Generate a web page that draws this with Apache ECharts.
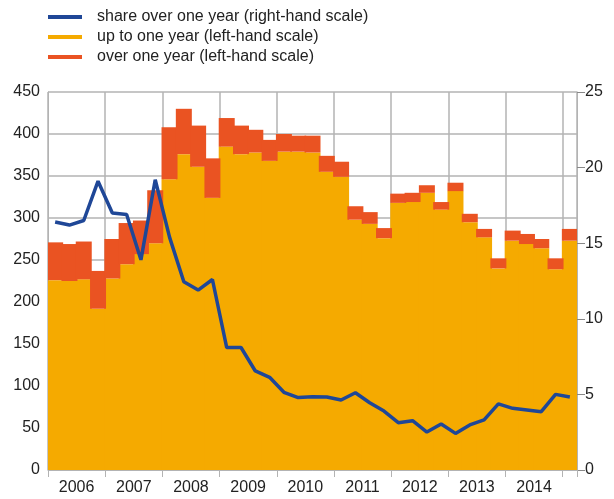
<!DOCTYPE html>
<html>
<head>
<meta charset="utf-8">
<script src="https://cdn.jsdelivr.net/npm/echarts@6/dist/echarts.min.js"></script>
<style>
html,body{margin:0;padding:0;background:#fff;}
#chart{width:614px;height:499px;}
</style>
</head>
<body>
<div id="chart"></div>
<script>
var quarters = ['2006Q1','2006Q2','2006Q3','2006Q4','2007Q1','2007Q2','2007Q3','2007Q4',
  '2008Q1','2008Q2','2008Q3','2008Q4','2009Q1','2009Q2','2009Q3','2009Q4',
  '2010Q1','2010Q2','2010Q3','2010Q4','2011Q1','2011Q2','2011Q3','2011Q4',
  '2012Q1','2012Q2','2012Q3','2012Q4','2013Q1','2013Q2','2013Q3','2013Q4',
  '2014Q1','2014Q2','2014Q3','2014Q4','2015Q1'];
var yearLabels = ['2006','2007','2008','2009','2010','2011','2012','2013','2014'];
// up to one year (left-hand scale)
var upToOneYear = [226,225,227,192,228,245,257,270,346,376,361,324,385,376,378,368,379,379,378,355,349,298,293,276,318,319,330,310,332,295,277,240,273,269,264,239,273];
// total outstanding (left-hand scale)
var totalAmount = [271,269,272,237,275,294,297,333,408,430,410,371,419,410,405,393,400,398,398,374,367,314,307,288,329,330,339,319,342,305,287,252,285,281,275,252,287];
// share over one year (right-hand scale)
var shareOverOneYear = [16.4,16.2,16.5,19.1,17.0,16.9,13.9,19.2,15.4,12.45,11.9,12.6,8.1,8.1,6.55,6.13,5.14,4.79,4.85,4.83,4.63,5.11,4.45,3.9,3.13,3.26,2.51,3.04,2.42,2.98,3.31,4.37,4.08,3.97,3.86,5.0,4.83];
var overOneYear = totalAmount.map(function(t,i){return t - upToOneYear[i];});

var FONT = 'Liberation Sans, Arial, sans-serif';
var TXT = '#222';
var GRIDC = '#b3b3b3';
var chart = echarts.init(document.getElementById('chart'), null, {renderer:'canvas'});
function yearBoundary(index){ return index % 4 === 0; }
chart.setOption({
  animation:false,
  textStyle:{fontFamily:FONT},
  legend:{
    orient:'vertical', left:48, top:7, itemGap:0, padding:0,
    itemWidth:34, itemHeight:4, icon:'rect',
    textStyle:{fontFamily:FONT, fontSize:16, color:TXT, lineHeight:20, padding:[0,0,0,10]},
    data:['share over one year (right-hand scale)','up to one year (left-hand scale)','over one year (left-hand scale)']
  },
  grid:{left:48, right:37, top:92, bottom:29},
  xAxis:[{
    type:'category', data:quarters, boundaryGap:true,
    axisLine:{show:true, lineStyle:{color:GRIDC}},
    axisTick:{show:true, interval:yearBoundary, length:7, lineStyle:{color:GRIDC}},
    axisLabel:{show:false},
    splitLine:{show:true, interval:yearBoundary, lineStyle:{color:GRIDC, width:1.5}}
  },{
    type:'value', min:0, max:37, interval:2, position:'bottom',
    axisLine:{show:false}, axisTick:{show:false}, splitLine:{show:false},
    axisLabel:{show:true, margin:10, fontSize:16, color:TXT, fontFamily:FONT,
      showMaxLabel:false,
      formatter:function(v){ return (v % 4 === 2) ? yearLabels[(v-2)/4] : ''; }}
  }],
  yAxis:[{
    type:'value', min:0, max:450, interval:50, position:'left',
    axisLine:{show:true, lineStyle:{color:GRIDC}},
    axisTick:{show:false},
    axisLabel:{margin:8, fontSize:16, color:TXT, fontFamily:FONT},
    splitLine:{show:true, lineStyle:{color:GRIDC, width:1.5}}
  },{
    type:'value', min:0, max:25, interval:5, position:'right',
    axisLine:{show:true, lineStyle:{color:GRIDC}},
    axisTick:{show:true, length:8, lineStyle:{color:'#888'}},
    axisLabel:{margin:8, fontSize:16, color:TXT, fontFamily:FONT},
    splitLine:{show:false}
  }],
  series:[{
    name:'up to one year (left-hand scale)', type:'bar', stack:'amt',
    xAxisIndex:0, yAxisIndex:0, data:upToOneYear,
    barWidth:16, itemStyle:{color:'#f5aa00'}
  },{
    name:'over one year (left-hand scale)', type:'bar', stack:'amt',
    xAxisIndex:0, yAxisIndex:0, data:overOneYear,
    barWidth:16, itemStyle:{color:'#ea5322'}
  },{
    name:'share over one year (right-hand scale)', type:'line',
    xAxisIndex:0, yAxisIndex:1, data:shareOverOneYear, z:5,
    symbol:'none', lineStyle:{color:'#1f4797', width:3.5}, itemStyle:{color:'#1f4797'}
  }]
});
</script>
</body>
</html>
